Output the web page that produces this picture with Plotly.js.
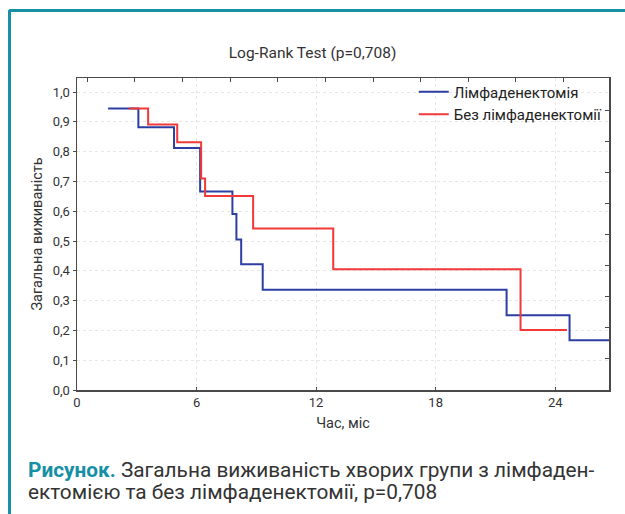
<!DOCTYPE html>
<html>
<head>
<meta charset="utf-8">
<script src="https://cdn.plot.ly/plotly-3.0.1.min.js"></script>
<style>
  html, body { margin:0; padding:0; background:#fff; }
  #wrap { position:relative; width:625px; height:514px; overflow:hidden; }
  #frame { position:absolute; left:8px; top:9px; width:700px; height:600px;
           border-left:3px solid #1590a4; border-top:3px solid #1590a4;
           border-top-left-radius:3px; box-sizing:border-box; }
  #chart { position:absolute; left:0; top:0; width:625px; height:514px; }
</style>
</head>
<body>
<div id="wrap">
  <div id="frame"></div>
  <div id="chart"></div>
</div>
<script>
// Kaplan-Meier steps (time in months, survival)
const seriesNames = ["Лімфаденектомія", "Без лімфаденектомії"];
const lymphTime = [1.56, 3.08, 4.87, 6.18, 7.80, 8.00, 8.24, 9.32, 21.56, 24.72, 26.7];
const lymphSurv = [0.945, 0.882, 0.812, 0.666, 0.591, 0.505, 0.422, 0.336, 0.251, 0.167, 0.167];
const noLymphTime = [2.61, 3.57, 5.03, 6.23, 6.43, 8.84, 12.86, 22.26, 24.59];
const noLymphSurv = [0.945, 0.891, 0.831, 0.710, 0.651, 0.542, 0.405, 0.201, 0.201];
const xTicks = [0, 6, 12, 18, 24];
const yTicks = [0, 0.1, 0.2, 0.3, 0.4, 0.5, 0.6, 0.7, 0.8, 0.9, 1.0];
const chartTitle = "Log-Rank Test (p=0,708)";
const xTitle = "Час, міс";
const yTitle = "Загальна виживаність";
const captionLead = "Рисунок.";
const captionLine1 = "Загальна виживаність хворих групи з лімфаден-";
const captionLine2 = "ектомією та без лімфаденектомії, p=0,708";

const XMAX = 26.7, YMAX = 1.047;
const axisCol = "#4a4a4a";
const fontFam = "Roboto, 'Open Sans', sans-serif";
const capFam = "Roboto, 'Open Sans', sans-serif";

const traces = [
  { x: lymphTime, y: lymphSurv, name: seriesNames[0], mode: "lines",
    line: { shape: "hv", color: "#2d3ea3", width: 2 } },
  { x: noLymphTime, y: noLymphSurv, name: seriesNames[1], mode: "lines",
    line: { shape: "hv", color: "#f23838", width: 2 } },
  // invisible traces that carry the mirrored top / right axes
  { x: [0], y: [0], xaxis: "x2", yaxis: "y", mode: "markers", marker:{opacity:0}, showlegend:false, hoverinfo:"skip" },
  { x: [0], y: [0], xaxis: "x", yaxis: "y2", mode: "markers", marker:{opacity:0}, showlegend:false, hoverinfo:"skip" }
];

const layout = {
  width: 625, height: 514,
  margin: { l: 77, r: 16, t: 78, b: 124 },
  paper_bgcolor: "rgba(0,0,0,0)",
  plot_bgcolor: "rgba(0,0,0,0)",
  separators: ", ",
  font: { family: fontFam, size: 12, color: "#333" },
  title: { text: chartTitle, x: 0.5, xanchor: "center", y: 0.897, yanchor: "middle",
           font: { family: fontFam, size: 15.5, color: "#333" } },
  xaxis: {
    range: [0, XMAX], tickvals: xTicks, ticktext: xTicks.map(String),
    showline: true, linecolor: axisCol, linewidth: 1.5,
    ticks: "inside", ticklen: 3, tickcolor: axisCol,
    showgrid: true, gridcolor: "#e6e6e6", griddash: "dot", zeroline: false,
    tickfont: { size: 13, color: "#333" },
    title: { text: xTitle, font: { size: 14.5, color: "#333" }, standoff: 9 }
  },
  yaxis: {
    range: [0, YMAX], tickvals: yTicks, tickformat: ".1f",
    showline: true, linecolor: axisCol, linewidth: 1.5,
    ticks: "outside", ticklen: 3, tickcolor: axisCol,
    showgrid: true, gridcolor: "#e6e6e6", griddash: "dot", zeroline: false,
    tickfont: { size: 13, color: "#333" },
    title: { text: yTitle, font: { size: 14.5, color: "#333" }, standoff: 6 }
  },
  xaxis2: {
    overlaying: "x", side: "top", anchor: "y", range: [0, XMAX],
    tick0: 0.52, dtick: 2.39, showticklabels: false,
    showline: true, linecolor: axisCol, linewidth: 1.5,
    ticks: "inside", ticklen: 4, tickcolor: axisCol, showgrid: false, zeroline: false
  },
  yaxis2: {
    overlaying: "y", side: "right", anchor: "x", range: [0, YMAX],
    tick0: 0, dtick: 0.1044, showticklabels: false,
    showline: true, linecolor: axisCol, linewidth: 1.5,
    ticks: "inside", ticklen: 4, tickcolor: axisCol, showgrid: false, zeroline: false
  },
  showlegend: true,
  legend: { x: 0.633, y: 1.008, xanchor: "left", yanchor: "top",
            bgcolor: "rgba(0,0,0,0)", tracegroupgap: 0, itemwidth: 30,
            font: { family: fontFam, size: 15, color: "#222" } },
  annotations: [
    { xref: "paper", yref: "paper", x: -51/532, y: -80/312, xanchor: "left", yanchor: "middle",
      align: "left", showarrow: false,
      text: "<b><span style='color:#1590a4'>" + captionLead + "</span></b> " + captionLine1,
      font: { family: capFam, size: 20.8, color: "#333" } },
    { xref: "paper", yref: "paper", x: -51/532, y: -101.5/312, xanchor: "left", yanchor: "middle",
      align: "left", showarrow: false,
      text: captionLine2,
      font: { family: capFam, size: 20.8, color: "#333" } }
  ]
};

Plotly.newPlot("chart", traces, layout, { displayModeBar: false, staticPlot: true });
</script>
</body>
</html>
